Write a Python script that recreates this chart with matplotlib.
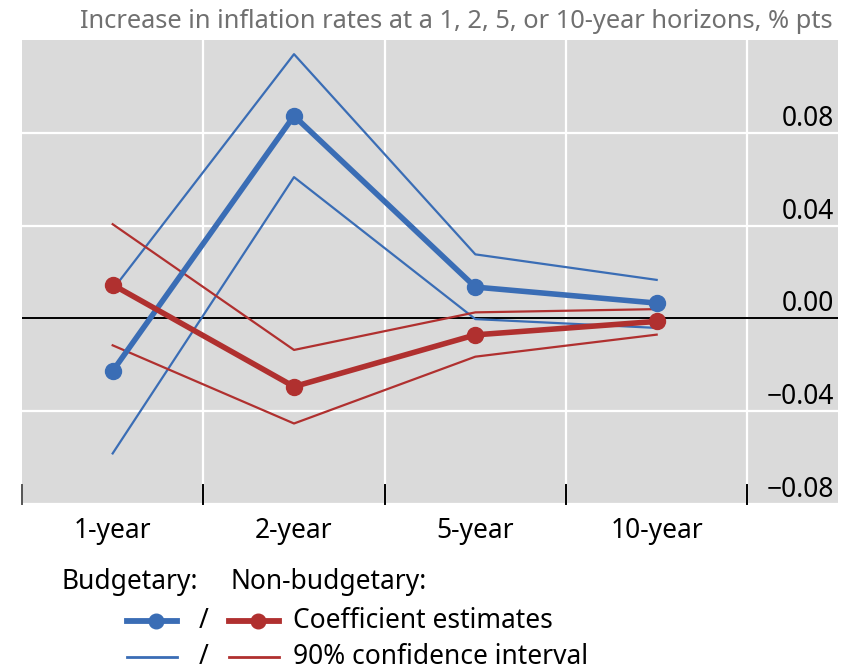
import matplotlib
matplotlib.use("Agg")
import matplotlib.pyplot as plt
from matplotlib.lines import Line2D
import numpy as np

plt.rcParams['font.family'] = ['Noto Sans', 'DejaVu Sans']

horizons = ["1-year", "2-year", "5-year", "10-year"]

# budgetary shocks
budg_coef = [-0.0227, 0.0873, 0.0135, 0.0066]
budg_upper = [0.0124, 0.1139, 0.0276, 0.0166]
budg_lower = [-0.0582, 0.0609, -0.0003, -0.0041]

# non-budgetary shocks
nonb_coef = [0.0145, -0.0294, -0.0071, -0.0013]
nonb_upper = [0.0406, -0.0136, 0.0026, 0.0040]
nonb_lower = [-0.0116, -0.0453, -0.0165, -0.0070]

y_ticks = [-0.08, -0.04, 0.00, 0.04, 0.08]

BLUE = "#3A6DB5"
RED = "#B0302F"
PANEL = "#DADADA"
FS = 19

W, H = 848, 670
fig = plt.figure(figsize=(W / 100, H / 100), dpi=100)
ax = fig.add_axes([22 / W, (H - 504) / H, 816 / W, 464 / H])
ax.set_facecolor(PANEL)

x = np.arange(len(horizons))
ax.set_xlim(-0.5, 4.0)
ax.set_ylim(-0.08, 0.12)

# grid
for gx in [0.5, 1.5, 2.5, 3.5]:
    ax.axvline(gx, color="white", lw=1.6, zorder=1)
for gy in y_ticks:
    if gy != 0:
        ax.axhline(gy, color="white", lw=1.6, zorder=1)
ax.axhline(0, color="black", lw=1.4, zorder=2)

# short ticks on the category boundaries
for bx in [-0.5, 0.5, 1.5, 2.5, 3.5]:
    ax.plot([bx, bx], [-0.08, -0.072], color="black" if bx > 0 else "#555555",
            lw=1.4, zorder=3, clip_on=False)

ax.plot(x, budg_upper, color=BLUE, lw=1.6, zorder=4)
ax.plot(x, budg_lower, color=BLUE, lw=1.6, zorder=4)
ax.plot(x, nonb_upper, color=RED, lw=1.6, zorder=4)
ax.plot(x, nonb_lower, color=RED, lw=1.6, zorder=4)
ax.plot(x, budg_coef, color=BLUE, lw=4.0, marker="o", ms=11.5, zorder=5)
ax.plot(x, nonb_coef, color=RED, lw=4.0, marker="o", ms=11.5, zorder=6)

for sp in ax.spines.values():
    sp.set_visible(False)
ax.set_xticks([])
ax.set_yticks([])

# y labels sit inside the panel, just above their gridline
for gy in y_ticks:
    lab = f"{gy:.2f}".replace("-", "\u2212")
    ax.text(3.98, gy + 0.003, lab, ha="right", va="baseline",
            fontsize=FS, color="black", zorder=7)

for xi, h in zip(x, horizons):
    ax.text(xi, -0.0915, h, ha="center", va="center", fontsize=FS)

fig.text(833 / W, 1 - 22 / H,
         "Increase in inflation rates at a 1, 2, 5, or 10-year horizons, % pts",
         ha="right", va="center", fontsize=18.3, color="#707070")

# legend
def px(xp, yp):
    return xp / W, 1 - yp / H

fig.text(*px(62, 582), "Budgetary:", ha="left", va="center", fontsize=FS)
fig.text(*px(230, 582), "Non-budgetary:", ha="left", va="center", fontsize=FS)

rows = [(621, 4.2, True, "Coefficient estimates"),
        (657, 2.0, False, "90% confidence interval")]
for yp, lw, mk, label in rows:
    for x0, x1, col in [(127, 177, BLUE), (229, 279, RED)]:
        (a0, b0), (a1, _) = px(x0, yp), px(x1, yp)
        fig.add_artist(Line2D([a0, a1], [b0, b0], color=col, lw=lw,
                              transform=fig.transFigure))
        if mk:
            mx, my = px((x0 + x1) / 2 + 4, yp)
            fig.add_artist(Line2D([mx], [my], color=col, marker="o", ms=10.5,
                                  transform=fig.transFigure))
    fig.text(*px(204, yp), "/", ha="center", va="center", fontsize=FS)
    fig.text(*px(293, yp), label, ha="left", va="center", fontsize=FS)

fig.savefig("out.png", dpi=100)
